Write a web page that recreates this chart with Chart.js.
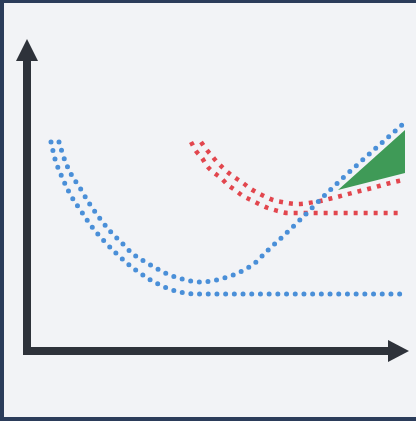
<!DOCTYPE html>
<html lang="en">
<head>
    <meta charset="UTF-8">
    <title>Curves</title>
    <script src="https://cdn.jsdelivr.net/npm/chart.js"></script>
    <style>
        html, body { margin: 0; padding: 0; }
        body { width: 416px; height: 421px; background: #2b3c5a; position: relative; overflow: hidden; }
        .panel { position: absolute; left: 4px; top: 3px; width: 412px; height: 414px; background: #f2f3f6; }
        #chart { position: absolute; left: 0; top: 0; }
    </style>
</head>
<body>
    <div class="panel"></div>
    <canvas id="chart" width="416" height="421"></canvas>

    <script>
        // curve data (x, y)
        const blueOuter = [
            [6, 52.25], [7, 48], [8.75, 43.5], [10.75, 39.25], [13.5, 35], [16.25, 31],
            [19.5, 27.25], [22.75, 24], [26.5, 20.75], [30.5, 18], [35, 15.75],
            [39.5, 14.5], [44.5, 14.25], [94.5, 14.25]
        ];
        const blueInner = [
            [8, 52.25], [9.25, 48.25], [11, 44.25], [13.25, 40.75], [15.5, 37], [17.75, 33.75],
            [20.5, 30.25], [23.5, 27.25], [26.5, 24.25], [30.5, 21.75], [34.5, 19.5],
            [38.75, 18], [43.75, 17.25], [49.25, 18.25], [53.25, 19.75], [57, 22],
            [60, 25], [63, 27.75], [69, 33.5], [75, 39.5], [79.5, 43.75], [94, 56.75]
        ];
        const redOuter = [
            [41, 52.25], [42.25, 50], [43.75, 48.25], [45, 46.25], [46.5, 44.75], [48.5, 43.25],
            [50.25, 41.5], [52, 40.25], [54, 38.75], [56, 37.75], [58, 36.75], [60.25, 35.75],
            [62.75, 35], [65.25, 34.5], [68.25, 34.5], [94, 34.5]
        ];
        const redInner = [
            [43.5, 52.25], [44.75, 50.5], [46.25, 48.75], [47.5, 47.25], [49, 45.75], [50.75, 44.25],
            [52.5, 43], [54, 42], [56, 40.5], [57.75, 39.5], [59.75, 38.5], [61.5, 37.75],
            [63.75, 37.25], [67.75, 36.75], [72, 37.25], [76.5, 38.25], [81.25, 39.5],
            [86.25, 40.75], [90.75, 42], [94, 42.75]
        ];
        const gapTop = [[77.75, 40.25], [94.5, 55.25]];
        const gapBottom = [[77.75, 40.25], [94.5, 44.5]];

        const xMax = 96;
        const yMax = 78;

        const toPts = arr => arr.map(p => ({ x: p[0], y: p[1] }));

        function dotted(data, color, width, dash, cap) {
            return {
                data: toPts(data),
                borderColor: color,
                borderWidth: width,
                borderDash: dash,
                borderCapStyle: cap,
                pointRadius: 0,
                cubicInterpolationMode: 'monotone',
                fill: false,
                clip: false,
                order: 1
            };
        }

        // axes with arrow heads
        const arrowAxes = {
            id: 'arrowAxes',
            beforeDatasetsDraw(chart) {
                const ctx = chart.ctx;
                const xs = chart.scales.x, ys = chart.scales.y;
                const ox = xs.getPixelForValue(0), oy = ys.getPixelForValue(0);
                const xEnd = xs.getPixelForValue(xMax), yEnd = ys.getPixelForValue(yMax);
                const w = 8;
                ctx.save();
                ctx.fillStyle = '#2e323a';
                ctx.fillRect(ox - w / 2, yEnd + 18, w, oy + w / 2 - (yEnd + 18));
                ctx.fillRect(ox - w / 2, oy - w / 2, xEnd - 20 - (ox - w / 2), w);
                ctx.beginPath();
                ctx.moveTo(ox, yEnd);
                ctx.lineTo(ox - 11, yEnd + 22);
                ctx.lineTo(ox + 11, yEnd + 22);
                ctx.closePath();
                ctx.fill();
                ctx.beginPath();
                ctx.moveTo(xEnd - 2, oy);
                ctx.lineTo(xEnd - 23, oy - 11);
                ctx.lineTo(xEnd - 23, oy + 11);
                ctx.closePath();
                ctx.fill();
                ctx.restore();
            }
        };

        const ctx = document.getElementById('chart').getContext('2d');
        const chart = new Chart(ctx, {
            type: 'line',
            data: {
                datasets: [
                    dotted(blueOuter, '#4a8fd8', 5, [0, 8.7], 'round'),
                    dotted(blueInner, '#4a8fd8', 5, [0, 8.7], 'round'),
                    dotted(redOuter, '#e2464e', 4.5, [4, 6], 'butt'),
                    dotted(redInner, '#e2464e', 4.5, [4, 6], 'butt'),
                    {
                        data: toPts(gapTop),
                        borderWidth: 0,
                        pointRadius: 0,
                        backgroundColor: '#3f9a57',
                        fill: '+1',
                        tension: 0,
                        order: 5
                    },
                    {
                        data: toPts(gapBottom),
                        borderWidth: 0,
                        pointRadius: 0,
                        fill: false,
                        tension: 0,
                        order: 5
                    }
                ]
            },
            options: {
                responsive: false,
                animation: false,
                layout: { padding: { left: 27, right: 5, top: 39, bottom: 70 } },
                plugins: {
                    legend: { display: false },
                    tooltip: { enabled: false }
                },
                scales: {
                    x: { type: 'linear', min: 0, max: xMax, display: false },
                    y: { type: 'linear', min: 0, max: yMax, display: false }
                }
            },
            plugins: [arrowAxes]
        });
    </script>
</body>
</html>
